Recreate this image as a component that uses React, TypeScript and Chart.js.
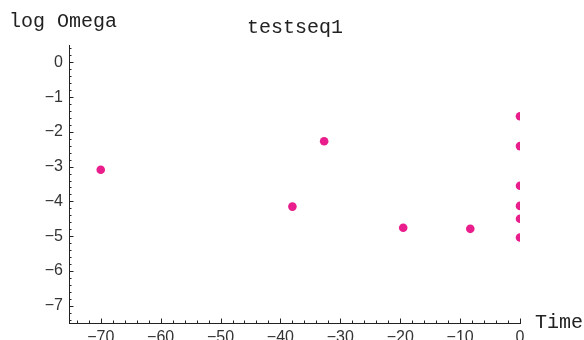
import React, { useEffect, useRef } from "react";
import { Chart, registerables } from "chart.js";

Chart.register(...registerables);

const timeValues = [-70, -38, -32.7, -19.5, -8.3, 0, 0, 0, 0, 0, 0];
const logOmegaValues = [-3.09, -4.15, -2.27, -4.76, -4.79, -1.55, -2.41, -3.55, -4.13, -4.5, -5.04];
const xTickValues = [-70, -60, -50, -40, -30, -20, -10, 0];
const yTickValues = [-7, -6, -5, -4, -3, -2, -1, 0];
const titleText = "testseq1";
const yLabelText = "log Omega";
const xLabelText = "Time";

const X_MIN = -75.3;
const X_MAX = 0;
const Y_MIN = -7.5;
const Y_MAX = 0.5;
const POINT_COLOR = "#E91E8C";
const AXIS_COLOR = "#222";
const MONO = '"Liberation Mono", "Courier New", monospace';
const SANS = '"Liberation Sans", Arial, sans-serif';

const fmt = (v: number) => (v < 0 ? "\u2212" + Math.abs(v) : String(v));

const decorPlugin = {
  id: "decor",
  afterDraw(chart: any) {
    const { ctx, chartArea, scales } = chart;
    const xs = scales.x;
    const ys = scales.y;
    ctx.save();
    ctx.strokeStyle = AXIS_COLOR;
    ctx.lineWidth = 1;
    // x ticks (inward)
    for (let v = -74; v <= 0; v += 2) {
      const px = Math.round(xs.getPixelForValue(v)) + 0.5;
      const len = v % 10 === 0 ? 4.5 : 2.5;
      ctx.beginPath();
      ctx.moveTo(px, chartArea.bottom);
      ctx.lineTo(px, chartArea.bottom - len);
      ctx.stroke();
    }
    // y ticks (inward)
    for (let i = -37; i <= 2; i++) {
      const v = i / 5;
      const py = Math.round(ys.getPixelForValue(v)) + 0.5;
      const len = i % 5 === 0 ? 4.5 : 2.5;
      ctx.beginPath();
      ctx.moveTo(chartArea.left, py);
      ctx.lineTo(chartArea.left + len, py);
      ctx.stroke();
    }
    // texts
    ctx.fillStyle = "#222";
    ctx.font = "20px " + MONO;
    ctx.textBaseline = "alphabetic";
    ctx.textAlign = "left";
    ctx.fillText(yLabelText, 9, 27);
    ctx.textAlign = "center";
    ctx.fillText(titleText, 295, 33);
    ctx.textAlign = "left";
    ctx.fillText(xLabelText, 535, 328);
    ctx.restore();
  },
};

export default function App() {
  const ref = useRef<HTMLCanvasElement | null>(null);
  useEffect(() => {
    if (!ref.current) return;
    const points = timeValues.map((t, i) => ({ x: t, y: logOmegaValues[i] }));
    const chart = new Chart(ref.current, {
      type: "scatter",
      data: {
        datasets: [
          {
            data: points,
            pointRadius: 4.3,
            pointBackgroundColor: POINT_COLOR,
            pointBorderColor: POINT_COLOR,
            pointBorderWidth: 0,
            clip: 0,
          } as any,
        ],
      },
      plugins: [decorPlugin],
      options: {
        responsive: false,
        animation: false,
        devicePixelRatio: 1,
        layout: { padding: { left: 0, top: 45, right: 64, bottom: 0 } },
        plugins: {
          legend: { display: false },
          tooltip: { enabled: false },
          title: { display: false },
        },
        scales: {
          x: {
            type: "linear",
            min: X_MIN,
            max: X_MAX,
            grid: { display: false, drawTicks: false },
            border: { display: true, color: AXIS_COLOR, width: 1 },
            afterBuildTicks: (s: any) => {
              s.ticks = xTickValues.map((v) => ({ value: v }));
            },
            afterFit: (s: any) => {
              s.height = 29;
            },
            ticks: {
              padding: 5,
              color: "#333",
              font: { family: SANS, size: 16 },
              maxRotation: 0,
              autoSkip: false,
              callback: (v: any) => fmt(Number(v)),
            },
          },
          y: {
            type: "linear",
            min: Y_MIN,
            max: Y_MAX,
            grid: { display: false, drawTicks: false },
            border: { display: true, color: AXIS_COLOR, width: 1 },
            afterBuildTicks: (s: any) => {
              s.ticks = yTickValues.map((v) => ({ value: v }));
            },
            afterFit: (s: any) => {
              s.width = 69;
            },
            ticks: {
              padding: 6,
              color: "#333",
              font: { family: SANS, size: 16 },
              autoSkip: false,
              callback: (v: any) => fmt(Number(v)),
            },
          },
        },
      } as any,
    });
    return () => chart.destroy();
  }, []);
  return (
    <div
      style={{
        position: "fixed",
        left: 0,
        top: 0,
        width: 584,
        height: 340,
        overflow: "hidden",
        background: "#fff",
      }}
    >
      <canvas ref={ref} width={584} height={352} style={{ display: "block" }} />
    </div>
  );
}
